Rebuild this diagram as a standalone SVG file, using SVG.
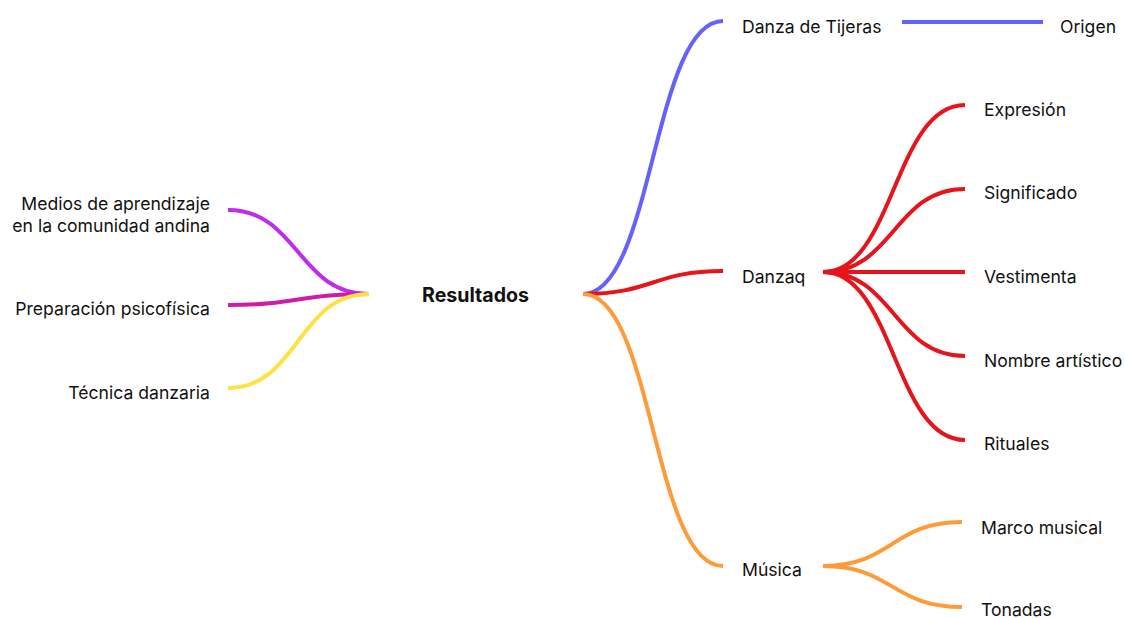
<svg xmlns="http://www.w3.org/2000/svg" width="1125" height="618" viewBox="0 0 1125 618">
<style>
text{font-family:Inter,"Noto Sans","Liberation Sans",sans-serif;font-size:17.6px;fill:#111}
.b{font-weight:700;font-size:19.6px}
.r{text-anchor:end}
path{fill:none;stroke-width:4;stroke-linecap:butt}
.blue{stroke:#6462FA}.red{stroke:#E5151B}.orange{stroke:#FF9A38}.purple{stroke:#BE2CF0}.mag{stroke:#D01BA8}.yel{stroke:#FFE145}
</style>
<rect width="1125" height="618" fill="#fff"/>
<g id="connectors">
<path class="blue" d="M583 294 C653 294 653 21 723 21"/>
<path class="blue" d="M902 22 L1043 22"/>
<path class="red" d="M583 294 C653 294 653 271 723 271"/>
<path class="orange" d="M583 294 C653 294 653 566 723 566"/>
<path class="red" d="M823 272 C894 272 894 105 965 105"/>
<path class="red" d="M823 272 C894 272 894 189 965 189"/>
<path class="red" d="M823 272 L965 272"/>
<path class="red" d="M823 272 C894 272 894 356 965 356"/>
<path class="red" d="M823 272 C894 272 894 440 965 440"/>
<path class="orange" d="M823 566 C892 566 892 522 962 522"/>
<path class="orange" d="M823 566 C892 566 892 607 962 607"/>
<path class="purple" d="M369 294 C298 294 298 210 228 210"/>
<path class="mag" d="M369 294 C298 294 298 305 228 305"/>
<path class="yel" d="M369 294 C298 294 298 388 228 388"/>
</g>
<g id="resultados"><text class="b" x="422" y="302">Resultados</text></g>
<g id="danza-tijeras"><text x="742" y="33">Danza de Tijeras</text></g>
<g id="origen"><text x="1060" y="33">Origen</text></g>
<g id="danzaq"><text x="742" y="283">Danzaq</text></g>
<g id="expresion"><text x="984" y="116">Expresión</text></g>
<g id="significado"><text x="984" y="199">Significado</text></g>
<g id="vestimenta"><text x="984" y="283">Vestimenta</text></g>
<g id="nombre"><text x="984" y="367">Nombre artístico</text></g>
<g id="rituales"><text x="984" y="450">Rituales</text></g>
<g id="musica"><text x="742" y="576">Música</text></g>
<g id="marco"><text x="981" y="534">Marco musical</text></g>
<g id="tonadas"><text x="981" y="616">Tonadas</text></g>
<g id="medios"><text class="r" x="210" y="210">Medios de aprendizaje</text><text class="r" x="210" y="232">en la comunidad andina</text></g>
<g id="preparacion"><text class="r" x="210" y="315">Preparación psicofísica</text></g>
<g id="tecnica"><text class="r" x="210" y="399">Técnica danzaria</text></g>
</svg>
